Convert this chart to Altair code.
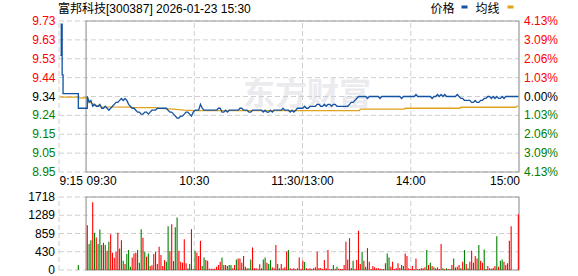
import altair as alt
import pandas as pd

FONT = "Liberation Sans, Arial, Noto Sans CJK SC, sans-serif"
CJK = "Liberation Sans, Noto Sans CJK SC, sans-serif"

TITLE = "富邦科技[300387] 2026-01-23 15:30"
LEGEND_NAMES = ["价格", "均线"]
BLUE = "#1352a2"
ORANGE = "#e0a31e"
RED = "#ff0000"
GREEN = "#008000"
WATERMARK = "东方财富"

PRICE_LEVELS = [9.7257, 9.6293, 9.5329, 9.4364, 9.34, 9.2436, 9.1471, 9.0507, 8.9543]
PRICE_LABELS = ["9.73", "9.63", "9.53", "9.44", "9.34", "9.24", "9.15", "9.05", "8.95"]
PCT_LABELS = ["4.13%", "3.09%", "2.06%", "1.03%", "0.00%", "1.03%", "2.06%", "3.09%", "4.13%"]
LEVEL_SIDE = ["up", "up", "up", "up", "flat", "down", "down", "down", "down"]
VOL_LEVELS = [0, 430, 859, 1289, 1718]
VOL_LABELS = ["0", "430", "859", "1289", "1718"]
GRID_TIMES = [-15, 60, 120, 180]

# pre-market auction 9:15-9:30 (minutes relative to 09:30)
PRE_T = [-15, -14.5, -14, -13.5, -5, 0]
PRE_P = [9.55, 9.71, 9.45, 9.355, 9.28, 9.34]

# 09:30 .. 15:00, one value per minute (241)
PRICE = [
    9.34, 9.31, 9.32, 9.29, 9.30, 9.29, 9.29, 9.30, 9.28, 9.28,
    9.29, 9.28, 9.27, 9.28, 9.29, 9.30, 9.31, 9.31, 9.32, 9.33,
    9.32, 9.33, 9.32, 9.30, 9.29, 9.28, 9.28, 9.27, 9.26, 9.26,
    9.25, 9.25, 9.26, 9.26, 9.25, 9.26, 9.27, 9.27, 9.27, 9.28,
    9.28, 9.28, 9.28, 9.28, 9.28, 9.27, 9.26, 9.26, 9.25, 9.24,
    9.23, 9.23, 9.24, 9.24, 9.25, 9.26, 9.26, 9.25, 9.24, 9.26,
    9.27, 9.27, 9.27, 9.30, 9.28, 9.27, 9.27, 9.27, 9.27, 9.27,
    9.27, 9.27, 9.27, 9.28, 9.28, 9.26, 9.26, 9.27, 9.26, 9.27,
    9.27, 9.27, 9.27, 9.27, 9.27, 9.28, 9.28, 9.27, 9.27, 9.27,
    9.26, 9.26, 9.27, 9.27, 9.27, 9.27, 9.27, 9.27, 9.26, 9.27,
    9.26, 9.26, 9.27, 9.26, 9.27, 9.27, 9.27, 9.27, 9.27, 9.28,
    9.27, 9.27, 9.27, 9.26, 9.27, 9.26, 9.27, 9.28, 9.28, 9.28,
    9.28, 9.29, 9.28, 9.28, 9.29, 9.29, 9.29, 9.29, 9.30, 9.30,
    9.29, 9.29, 9.30, 9.29, 9.30, 9.30, 9.29, 9.30, 9.30, 9.29,
    9.29, 9.29, 9.29, 9.29, 9.29, 9.29, 9.30, 9.31, 9.31, 9.32,
    9.33, 9.34, 9.34, 9.34, 9.34, 9.34, 9.33, 9.34, 9.34, 9.34,
    9.34, 9.34, 9.34, 9.33, 9.34, 9.34, 9.34, 9.34, 9.34, 9.34,
    9.34, 9.34, 9.34, 9.34, 9.34, 9.33, 9.34, 9.34, 9.34, 9.34,
    9.34, 9.34, 9.34, 9.35, 9.34, 9.34, 9.34, 9.34, 9.34, 9.34,
    9.34, 9.34, 9.33, 9.34, 9.34, 9.35, 9.34, 9.35, 9.34, 9.35,
    9.34, 9.34, 9.34, 9.34, 9.34, 9.34, 9.35, 9.34, 9.33, 9.33,
    9.32, 9.32, 9.32, 9.32, 9.31, 9.31, 9.32, 9.31, 9.31, 9.32,
    9.32, 9.33, 9.33, 9.34, 9.34, 9.33, 9.34, 9.33, 9.34, 9.33,
    9.33, 9.34, 9.33, 9.34, 9.34, 9.34, 9.34, 9.34, 9.34, 9.34,
    9.34,
]

AVG_T = [-15, -5.5, -4.5, 0, 1.5, 4, 8, 23, 25, 38, 40, 48, 54, 60,
         151.5, 152, 176.5, 177, 207.5, 208, 238.5, 239.5, 240]
AVG = [9.337, 9.337, 9.332, 9.334, 9.312, 9.297, 9.287, 9.286, 9.283, 9.283, 9.279, 9.276, 9.27, 9.268,
       9.268, 9.275, 9.275, 9.28, 9.28, 9.285, 9.285, 9.291, 9.291]

PRE_VOL_T = [-5]
PRE_VOL = [117]
PRE_VOL_DIR = "g"

VOL = [
    1054, 609, 703, 1593, 875, 765, 609, 953, 586, 640,
    586, 453, 664, 843, 406, 289, 430, 875, 508, 703,
    219, 141, 375, 469, 78, 297, 390, 406, 469, 172,
    961, 758, 437, 312, 390, 94, 109, 375, 430, 141,
    547, 351, 94, 234, 195, 1031, 445, 1078, 211, 1007,
    1234, 453, 195, 172, 726, 156, 39, 141, 961, 23,
    453, 406, 328, 687, 94, 297, 234, 219, 31, 31,
    31, 31, 78, 117, 195, 297, 117, 117, 94, 117,
    117, 39, 117, 250, 273, 273, 172, 328, 78, 39,
    39, 250, 531, 39, 39, 31, 133, 39, 250, 297,
    172, 141, 234, 62, 39, 586, 141, 39, 141, 39,
    62, 437, 469,
    39, 23, 39, 16, 39, 297, 23, 219, 187, 39,
    23, 39, 23, 39, 62, 430, 47, 47, 23, 234,
    39, 469, 23, 23, 117, 31, 78, 31, 23, 23,
    117, 664, 250, 750, 47, 219, 23, 234, 922, 141,
    430, 219, 78, 516, 195, 23, 94, 62, 39, 47,
    31, 23, 23, 156, 390, 297, 78, 195, 23, 39,
    156, 47, 117, 94, 390, 328, 39, 23, 94, 16,
    273, 23, 23, 39, 39, 62, 469, 117, 172, 94,
    62, 39, 62, 23, 609, 39, 23, 39, 23, 23,
    117, 273, 62, 78, 117, 39, 195, 469, 141, 39,
    195, 453, 172, 328, 273, 586, 219, 172, 484, 23,
    94, 39, 31, 55, 94, 797, 78, 219, 250, 195,
    117, 156, 687, 1031,
    0, 0, 0, 1312,
]
VOL_DIR = (
    "rggrgrggrr" "grgrrrrrgr" "grgggrrrgg" "grgrgrrrrr" "rrrrggrrrg"
    "grrrrrggrr" "grrrggrrrr" "rrrrrgrgrg" "grrgrrrrgr" "ggrrrrrrgg"
    "rggrrrggrr" "rrg"
    "rrrrrrrrgr" "rrrrrrrrrr" "rrrrgrgrrr" "rrrrrgrrrr" "grgrrrrrrr"
    "rrgrggrrrr" "rrggrrrrrr" "rrrrrrgrgr" "grrrrgrgrg" "rgrrrgrgrg"
    "rrgrrgrrgr" "rrgrrgrggr" "rgrr"
    "rrrr"
)

MINUTES = list(range(len(PRICE)))

# ---------------- tables ----------------
price_df = pd.DataFrame({"t": MINUTES, "p": PRICE})
pre_df = pd.DataFrame({"t": PRE_T, "p": PRE_P})
avg_df = pd.DataFrame({"t": AVG_T, "p": AVG})
vol_df = pd.DataFrame({
    "t": PRE_VOL_T + list(range(len(VOL))),
    "v": PRE_VOL + VOL,
    "d": list(PRE_VOL_DIR) + list(VOL_DIR[:len(VOL)]),
})
side_color = {"up": RED, "flat": "#000000", "down": GREEN}
lvl_df = pd.DataFrame({
    "level": PRICE_LEVELS,
    "label": PRICE_LABELS,
    "pct": PCT_LABELS,
    "col": [side_color[s] for s in LEVEL_SIDE],
    "x0": -15, "x1": 240,
})
vlvl_df = pd.DataFrame({"level": VOL_LEVELS, "label": VOL_LABELS, "x0": -15, "x1": 240})
vgrid_df = pd.DataFrame({"t": GRID_TIMES, "y0": PRICE_LEVELS[-1], "y1": PRICE_LEVELS[0],
                         "v0": VOL_LEVELS[0], "v1": VOL_LEVELS[-1]})
frame_df = pd.DataFrame({"x0": [0], "x1": [240], "y0": [PRICE_LEVELS[-1]], "y1": [PRICE_LEVELS[0]],
                         "v0": [VOL_LEVELS[0]], "v1": [VOL_LEVELS[-1]]})

# ---------------- scales ----------------
GX = alt.Scale(domain=[-15, 240], nice=False, zero=False)
DX = alt.Scale(domain=[-15.76, 240.37], nice=False, zero=False)
PY = alt.Scale(domain=[PRICE_LEVELS[-1], PRICE_LEVELS[0]], range=[151, 0], nice=False, zero=False)
VY = alt.Scale(domain=[VOL_LEVELS[0], VOL_LEVELS[-1]], range=[249, 176], nice=False, zero=False)

GRID = "#cfcfcf"
FRAME = "#9a9a9a"
DASH = [5, 3]

layers = []

# watermark
layers.append(
    alt.Chart(pd.DataFrame({"w": [WATERMARK]})).mark_text(
        font="Noto Sans CJK SC", fontSize=32, fontWeight="bold", color="#ebebef",
        align="center", baseline="middle")
    .encode(x=alt.value(248), y=alt.value(74), text="w:N")
)

# price grid
layers.append(
    alt.Chart(lvl_df).mark_rule(color=GRID, strokeDash=DASH, strokeWidth=1)
    .encode(x=alt.X("x0:Q", scale=GX, axis=None), x2="x1:Q",
            y=alt.Y("level:Q", scale=PY, axis=None))
)
layers.append(
    alt.Chart(vgrid_df).mark_rule(color=GRID, strokeDash=DASH, strokeWidth=1)
    .encode(x=alt.X("t:Q", scale=GX, axis=None),
            y=alt.Y("y0:Q", scale=PY, axis=None), y2="y1:Q")
)
# volume grid
layers.append(
    alt.Chart(vlvl_df).mark_rule(color=GRID, strokeDash=DASH, strokeWidth=1)
    .encode(x=alt.X("x0:Q", scale=GX, axis=None), x2="x1:Q",
            y=alt.Y("level:Q", scale=VY, axis=None))
)
layers.append(
    alt.Chart(vgrid_df).mark_rule(color=GRID, strokeDash=DASH, strokeWidth=1)
    .encode(x=alt.X("t:Q", scale=GX, axis=None),
            y=alt.Y("v0:Q", scale=VY, axis=None), y2="v1:Q")
)
# frames
layers.append(
    alt.Chart(frame_df).mark_rect(filled=False, stroke=FRAME, strokeWidth=1.2)
    .encode(x=alt.X("x0:Q", scale=GX, axis=None), x2="x1:Q",
            y=alt.Y("y0:Q", scale=PY, axis=None), y2="y1:Q")
)
layers.append(
    alt.Chart(frame_df).mark_rect(filled=False, stroke=FRAME, strokeWidth=1.2)
    .encode(x=alt.X("x0:Q", scale=GX, axis=None), x2="x1:Q",
            y=alt.Y("v0:Q", scale=VY, axis=None), y2="v1:Q")
)

# volume bars
layers.append(
    alt.Chart(vol_df).mark_rule(strokeWidth=1.1)
    .encode(x=alt.X("t:Q", scale=DX, axis=None),
            y=alt.Y("v:Q", scale=VY, axis=None), y2=alt.datum(0),
            color=alt.Color("d:N", scale=alt.Scale(domain=["r", "g"], range=[RED, GREEN]), legend=None))
)

# average line
layers.append(
    alt.Chart(avg_df).mark_line(color=ORANGE, strokeWidth=1.3)
    .encode(x=alt.X("t:Q", scale=DX, axis=None), y=alt.Y("p:Q", scale=PY, axis=None))
)
# pre-market price
layers.append(
    alt.Chart(pre_df).mark_line(color=BLUE, strokeWidth=1.3, interpolate="step-after")
    .encode(x=alt.X("t:Q", scale=DX, axis=None), y=alt.Y("p:Q", scale=PY, axis=None))
)
# price line
layers.append(
    alt.Chart(price_df).mark_line(color=BLUE, strokeWidth=1.3)
    .encode(x=alt.X("t:Q", scale=DX, axis=None), y=alt.Y("p:Q", scale=PY, axis=None))
)

# left price labels
layers.append(
    alt.Chart(lvl_df).mark_text(font=FONT, fontSize=12, align="right", baseline="middle")
    .encode(x=alt.value(-3.5), y=alt.Y("level:Q", scale=PY, axis=None), text="label:N",
            color=alt.Color("col:N", scale=None))
)
# right percent labels
layers.append(
    alt.Chart(lvl_df).mark_text(font=FONT, fontSize=12, align="left", baseline="middle")
    .encode(x=alt.value(465), y=alt.Y("level:Q", scale=PY, axis=None), text="pct:N",
            color=alt.Color("col:N", scale=None))
)
# volume labels
layers.append(
    alt.Chart(vlvl_df).mark_text(font=FONT, fontSize=12, align="right", baseline="middle", color="#000")
    .encode(x=alt.value(-4), y=alt.Y("level:Q", scale=VY, axis=None), text="label:N")
)
# time labels
tl_left = pd.DataFrame({"t": [-15, 0], "label": ["9:15", "09:30"]})
tl_mid = pd.DataFrame({"t": [60, 120, 180], "label": ["10:30", "11:30/13:00", "14:00"]})
tl_right = pd.DataFrame({"t": [240], "label": ["15:00"]})
for df, al, dx in ((tl_left, "left", 0.5), (tl_mid, "center", 0), (tl_right, "right", 1)):
    layers.append(
        alt.Chart(df).mark_text(font=FONT, fontSize=12, align=al, baseline="middle", color="#000", dx=dx)
        .encode(x=alt.X("t:Q", scale=GX, axis=None), y=alt.value(160), text="label:N")
    )

# title
layers.append(
    alt.Chart(pd.DataFrame({"t": [TITLE]})).mark_text(font=CJK, fontSize=12, align="left",
                                                       baseline="middle", color="#000")
    .encode(x=alt.value(-1), y=alt.value(-12), text="t:N")
)
# legend
layers.append(
    alt.Chart(pd.DataFrame({"n": [LEGEND_NAMES[0]]})).mark_text(font=CJK, fontSize=12, align="center",
                                                                baseline="middle", color="#000")
    .encode(x=alt.value(383.5), y=alt.value(-12), text="n:N")
)
layers.append(
    alt.Chart(pd.DataFrame({"n": [LEGEND_NAMES[1]]})).mark_text(font=CJK, fontSize=12, align="center",
                                                                baseline="middle", color="#000")
    .encode(x=alt.value(428.5), y=alt.value(-12), text="n:N")
)
layers.append(
    alt.Chart(pd.DataFrame({"n": [LEGEND_NAMES[0]]})).mark_rect(color=BLUE)
    .encode(x=alt.value(402.5), x2=alt.value(408.5), y=alt.value(-15.5), y2=alt.value(-12.5))
)
layers.append(
    alt.Chart(pd.DataFrame({"n": [LEGEND_NAMES[1]]})).mark_rect(color=ORANGE)
    .encode(x=alt.value(448.5), x2=alt.value(454.5), y=alt.value(-15.5), y2=alt.value(-12.5))
)

chart = (
    alt.layer(*layers)
    .resolve_scale(x="independent", y="independent", color="independent")
    .properties(width=460, height=249,
                autosize=alt.AutoSizeParams(type="none"),
                padding={"left": 59, "top": 21, "right": 59, "bottom": 6},
                background="#ffffff")
    .configure_view(strokeWidth=0)
)

chart.save("out.html", embed_options={"renderer": "svg", "actions": False})
